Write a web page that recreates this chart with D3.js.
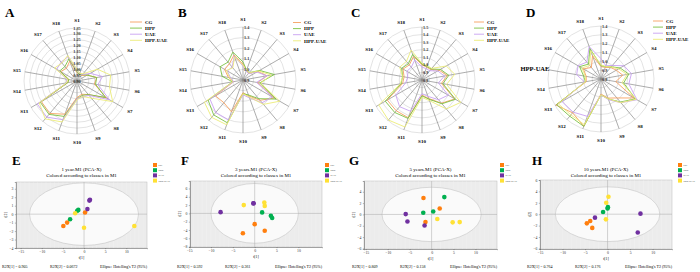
<!DOCTYPE html>
<html><head><meta charset="utf-8">
<script src="https://cdn.jsdelivr.net/npm/d3@7"></script>
<style>
body{margin:0;background:#fff;}
svg{display:block;font-family:"Liberation Serif","Times New Roman",serif;}
</style></head><body>
<svg id="fig" width="700" height="272"></svg>
<script>
// ---- data ----
const SPOKES = d3.range(1, 19).map(i => "S" + i);
const GROUPS = ["CG", "HPP", "UAE", "HPP-UAE"];
const RADAR_COLORS = ["#f6a060", "#7cc243", "#c8a2f2", "#ecec78"];
const PCA_COLORS = ["#ff7f0e", "#00b050", "#7030a0", "#ffe135"];

// radar values, one row per group (CG, HPP, UAE, HPP-UAE), S1..S18
const radarA = [
  [0.97,0.96,0.96,1.00,1.07,1.05,1.19,1.05,1.02,1.04,1.20,1.26,1.25,0.98,0.97,1.06,1.04,1.08],
  [0.98,0.96,0.97,1.00,1.07,1.06,1.18,1.05,1.03,1.05,1.22,1.27,1.26,0.98,0.97,1.07,1.06,1.10],
  [0.99,0.97,0.97,1.03,1.12,1.08,1.22,1.06,1.04,1.05,1.25,1.30,1.29,0.99,0.99,1.10,1.11,1.12],
  [1.00,0.97,0.98,1.10,1.19,1.18,1.25,1.09,1.04,1.06,1.27,1.32,1.27,0.99,0.98,1.12,1.10,1.13]
];
const radarB = [
  [1.05,1.00,0.98,1.06,1.13,1.04,1.24,1.15,1.06,1.02,1.22,1.18,1.20,0.99,1.04,1.10,1.10,1.15],
  [1.07,1.00,0.99,1.08,1.20,1.06,1.26,1.13,1.05,1.03,1.33,1.33,1.28,1.00,1.10,1.15,1.12,1.18],
  [1.03,0.99,0.98,1.05,1.13,1.03,1.22,1.18,1.08,1.04,1.30,1.30,1.26,0.99,1.02,1.07,1.06,1.14],
  [1.04,1.00,0.99,1.07,1.17,1.07,1.30,1.20,1.07,1.03,1.35,1.36,1.32,1.00,1.03,1.08,1.05,1.13]
];
const radarC = [
  [1.00,0.98,0.98,1.06,1.14,1.06,1.30,1.20,1.06,1.00,1.33,1.33,1.33,1.06,1.04,1.09,1.06,1.13],
  [1.01,0.99,0.99,1.08,1.16,1.08,1.31,1.21,1.07,1.01,1.34,1.36,1.36,1.08,1.06,1.11,1.08,1.16],
  [0.97,0.96,0.96,1.04,1.10,1.02,1.20,1.14,1.03,0.98,1.24,1.26,1.20,1.02,0.99,1.03,1.02,1.08],
  [1.02,1.00,1.00,1.17,1.24,1.13,1.39,1.30,1.09,1.03,1.46,1.49,1.46,1.09,1.06,1.14,1.12,1.22]
];
const radarD = [
  [0.94,0.94,0.97,1.00,1.05,0.97,1.23,1.08,1.03,0.97,1.37,1.30,1.39,0.97,0.97,1.03,0.97,1.08],
  [0.95,0.95,0.98,1.05,1.12,1.06,1.25,1.14,1.04,0.98,1.37,1.35,1.38,0.98,1.00,1.08,1.02,1.17],
  [1.03,0.96,1.00,1.10,1.15,1.12,1.27,1.15,1.05,0.98,1.25,1.29,1.31,0.99,1.08,1.10,1.05,1.19],
  [0.96,0.95,0.98,1.03,1.10,1.04,1.26,1.15,1.04,0.98,1.35,1.33,1.36,0.98,0.98,1.05,1.00,1.14]
];
const radarTicksA = [0.90,0.95,1.00,1.05,1.10,1.15,1.20,1.25,1.30,1.35];
const radarTicksB = [0.9,1.0,1.1,1.2,1.3,1.4];
const radarTicksC = [0.8,0.9,1.0,1.1,1.2,1.3,1.4,1.5];
const radarTicksD = [0.8,0.9,1.0,1.1,1.2,1.3,1.4];

// PCA scores (t[1], t[2]) and class of each sample
const pcaClass = ["CG","CG","CG","HPP","HPP","HPP","UAE","UAE","UAE","HPP-UAE","HPP-UAE","HPP-UAE"];
const pcaE_t1 = [-4.9,-4.0,0.24,-3.3,-1.6,-1.35,0.8,1.27,1.4,-2.1,0.0,11.9];
const pcaE_t2 = [-1.4,-1.0,0.2,-0.6,0.4,0.5,0.6,1.6,1.7,0.1,-1.6,-1.4];
const pcaF_t1 = [-2.7,0.0,2.3,1.7,3.7,4.0,-7.8,-0.3,-0.25,-2.5,2.2,2.3];
const pcaF_t2 = [-4.8,-2.6,-4.2,0.24,-0.6,-1.1,0.3,2.4,2.45,2.0,2.6,1.8];
const pcaG_t1 = [-1.85,1.85,-1.4,2.9,0.37,-1.9,-5.9,-5.5,-1.6,1.3,4.8,6.4];
const pcaG_t2 = [2.9,1.05,-1.35,3.06,0.53,0.3,0.06,-1.24,-1.94,-0.8,-1.4,-1.35];
const pcaH_t1 = [-4.6,-3.85,-3.4,-1.0,0.0,0.07,-2.8,7.3,6.7,0.2,-0.3,-0.37];
const pcaH_t2 = [-1.6,-1.2,-2.4,0.4,1.0,1.24,-0.6,0.1,-3.2,3.06,2.0,-0.9];

const pcaTitles = ["1 year.M1 (PCA-X)","3 years.M1 (PCA-X)","5 years.M1 (PCA-X)","10 years.M1 (PCA-X)"];
const pcaR2X1 = ["0.905","0.592","0.809","0.764"];
const pcaR2X2 = ["0.0672","0.361","0.158","0.176"];

// ---- drawing ----
const svg = d3.select("#fig");

function panelLetter(x, y, t){
  svg.append("text").attr("x", x).attr("y", y).attr("font-size", 13)
    .attr("font-weight", "bold").text(t);
}

function radar(cx, cy, data, ticks, fmt, anchor, legend, s15label){
  const R = 53;
  const r = d3.scaleLinear().domain([ticks[0], ticks[ticks.length-1]]).range([0, R]);
  const ang = i => i * 2 * Math.PI / SPOKES.length;
  const g = svg.append("g").attr("transform", `translate(${cx},${cy})`);

  g.selectAll("circle.ring").data(ticks.slice(1)).join("circle")
    .attr("r", d => r(d)).attr("fill", "none")
    .attr("stroke", "#d0d0d0").attr("stroke-width", 0.6);
  g.selectAll("line.spoke").data(SPOKES).join("line")
    .attr("x2", (d,i) => R * Math.sin(ang(i)))
    .attr("y2", (d,i) => -R * Math.cos(ang(i)))
    .attr("stroke", "#8a8a8a").attr("stroke-width", 0.7);

  const line = d3.lineRadial().angle((d,i) => ang(i)).radius(d => r(d))
    .curve(d3.curveLinearClosed);
  g.selectAll("path.series").data(data).join("path")
    .attr("d", line).attr("fill", "none")
    .attr("stroke", (d,i) => RADAR_COLORS[i]).attr("stroke-width", 0.9);

  g.selectAll("text.tick").data(ticks).join("text")
    .attr("x", anchor === "middle" ? 0 : 1)
    .attr("y", d => -r(d) + 1.5)
    .attr("text-anchor", anchor).attr("font-size", 4.2).attr("font-weight", "bold")
    .attr("fill", "#333").text(d => fmt(d));

  g.selectAll("text.spk").data(SPOKES).join("text")
    .attr("x", (d,i) => 61 * Math.sin(ang(i)))
    .attr("y", (d,i) => -61 * Math.cos(ang(i)) + 1.8)
    .attr("text-anchor", "middle").attr("font-size", 5).attr("font-weight", "bold")
    .text((d,i) => (s15label && d === "S15") ? "" : d);
  if (s15label){
    const i = SPOKES.indexOf("S15");
    g.append("text").attr("x", 61 * Math.sin(ang(i)) - 6).attr("y", -61 * Math.cos(ang(i)) + 2.2)
      .attr("font-size", 6.5).attr("font-weight", "bold").attr("text-anchor", "middle")
      .text(s15label);
  }

  const lg = svg.append("g").attr("transform", `translate(${legend[0]},${legend[1]})`);
  GROUPS.forEach((gname, i) => {
    lg.append("line").attr("x1", 0).attr("x2", legend[2]).attr("y1", i*6.1).attr("y2", i*6.1)
      .attr("stroke", RADAR_COLORS[i]).attr("stroke-width", 0.9);
    lg.append("text").attr("x", legend[2] + 3).attr("y", i*6.1 + 1.7)
      .attr("font-size", 5).attr("font-weight", "bold").text(gname);
  });
}

function pca(cfg){
  const x = d3.scaleLinear().domain(cfg.xd).range([cfg.x0, cfg.x1]);
  const y = d3.scaleLinear().domain(cfg.yd).range([cfg.y1, cfg.y0]);
  const g = svg.append("g");
  g.append("rect").attr("x", cfg.x0).attr("y", cfg.y0)
    .attr("width", cfg.x1 - cfg.x0).attr("height", cfg.y1 - cfg.y0)
    .attr("fill", "#ececec").attr("stroke", "#bdbdbd").attr("stroke-width", 0.5);
  g.selectAll("line.gx").data(d3.range(Math.ceil(cfg.xd[0]), cfg.xd[1], 1)).join("line")
    .attr("x1", d => x(d)).attr("x2", d => x(d)).attr("y1", cfg.y0).attr("y2", cfg.y1)
    .attr("stroke", "#f6f6f6").attr("stroke-width", 0.3);
  g.append("ellipse").attr("cx", x(0)).attr("cy", y(0))
    .attr("rx", x(cfg.ell[0]) - x(0)).attr("ry", y(0) - y(cfg.ell[1]))
    .attr("fill", "#fafafa").attr("stroke", "#c4c4c4").attr("stroke-width", 0.6);
  g.append("line").attr("x1", x(0)).attr("x2", x(0)).attr("y1", cfg.y0).attr("y2", cfg.y1)
    .attr("stroke", "#a8a8a8").attr("stroke-width", 0.5);
  g.append("line").attr("x1", cfg.x0).attr("x2", cfg.x1).attr("y1", y(0)).attr("y2", y(0))
    .attr("stroke", "#a8a8a8").attr("stroke-width", 0.5);

  const xa = g.append("g").attr("transform", `translate(0,${cfg.y1})`)
    .call(d3.axisBottom(x).tickValues(cfg.xt).tickSize(1.2).tickPadding(1));
  const ya = g.append("g").attr("transform", `translate(${cfg.x0},0)`)
    .call(d3.axisLeft(y).tickValues(cfg.yt).tickSize(1.2).tickPadding(1.5));
  [xa, ya].forEach(a => {
    a.select(".domain").attr("stroke", "#555").attr("stroke-width", 0.5);
    a.selectAll(".tick line").attr("stroke", "#555").attr("stroke-width", 0.4);
    a.selectAll("text").attr("font-size", 3.8).attr("fill", "#333")
      .attr("font-family", "Liberation Serif, serif");
  });

  g.append("text").attr("x", (cfg.x0 + cfg.x1)/2).attr("y", cfg.y1 + 11)
    .attr("text-anchor", "middle").attr("font-size", 3.8).text("t[1]");
  g.append("text").attr("transform", `translate(${cfg.x0 - 9},${(cfg.y0 + cfg.y1)/2}) rotate(-90)`)
    .attr("text-anchor", "middle").attr("font-size", 3.8).text("t[2]");

  g.selectAll("circle.pt").data(cfg.t1).join("circle")
    .attr("cx", d => x(d)).attr("cy", (d,i) => y(cfg.t2[i])).attr("r", 2.3)
    .attr("fill", (d,i) => PCA_COLORS[GROUPS.indexOf(pcaClass[i])]);

  const tx = (cfg.x0 + cfg.x1)/2;
  g.append("text").attr("x", tx).attr("y", 171).attr("text-anchor", "middle")
    .attr("font-size", 5).text(cfg.title);
  g.append("text").attr("x", tx).attr("y", 176.5).attr("text-anchor", "middle")
    .attr("font-size", 5).text("Colored according to classes in M1");

  const lg = g.append("g").attr("transform", `translate(${cfg.lx},163)`);
  GROUPS.forEach((gname, i) => {
    lg.append("rect").attr("x", 0).attr("y", i*5.2).attr("width", 4).attr("height", 4)
      .attr("fill", PCA_COLORS[i]);
    lg.append("text").attr("x", 5.5).attr("y", i*5.2 + 3).attr("font-size", 2.8).text(gname);
  });

  g.append("text").attr("x", cfg.bx).attr("y", 268).attr("font-size", 4).text(`R2X[1] = ${cfg.r1}`);
  g.append("text").attr("x", cfg.bx + 48).attr("y", 268).attr("font-size", 4).text(`R2X[2] = ${cfg.r2}`);
  g.append("text").attr("x", cfg.bx + 98).attr("y", 268).attr("font-size", 4)
    .text("Ellipse: Hotelling's T2 (95%)");
}

// radar panels
const f2 = d3.format(".2f"), f1 = d3.format(".1f");
panelLetter(5, 17, "A");
radar(77, 81, radarA, radarTicksA, f2, "middle", [130, 22, 12]);
panelLetter(178, 17, "B");
radar(243, 80, radarB, radarTicksB, f1, "start", [293, 22.5, 8]);
panelLetter(351, 17, "C");
radar(422, 80, radarC, radarTicksC, f1, "start", [474, 22, 10]);
panelLetter(526, 17, "D");
radar(601, 79, radarD, radarTicksD, f1, "start", [653, 21, 10], "HPP-UAE");

// PCA panels
panelLetter(12, 165, "E");
pca({x0:16, x1:147, y0:182, y1:248, xd:[-16.1,14.9], yd:[-4,3.8], xt:[-15,-10,-5,0,5,10], yt:[-4,-3,-2,-1,0,1,2,3],
  ell:[12.9,3.7], t1:pcaE_t1, t2:pcaE_t2, title:pcaTitles[0], lx:153, bx:2, r1:pcaR2X1[0], r2:pcaR2X2[0]});
panelLetter(181, 165, "F");
pca({x0:190, x1:322, y0:181, y1:247, xd:[-14.8,15.4], yd:[-8.1,7.8], xt:[-15,-10,-5,0,5,10], yt:[-8,-6,-4,-2,0,2,4,6],
  ell:[10,7.2], t1:pcaF_t1, t2:pcaF_t2, title:pcaTitles[1], lx:325, bx:177, r1:pcaR2X1[1], r2:pcaR2X2[1]});
panelLetter(349, 165, "G");
pca({x0:364, x1:497, y0:181, y1:249, xd:[-15.4,14.9], yd:[-6.1,5.9], xt:[-15,-10,-5,0,5,10], yt:[-6,-4,-2,0,2,4],
  ell:[11.3,4.8], t1:pcaG_t1, t2:pcaG_t2, title:pcaTitles[2], lx:500, bx:352, r1:pcaR2X1[2], r2:pcaR2X2[2]});
panelLetter(532, 165, "H");
pca({x0:540, x1:672, y0:180, y1:249, xd:[-15.0,14.3], yd:[-6.1,6.0], xt:[-15,-10,-5,0,5,10], yt:[-6,-4,-2,0,2,4,6],
  ell:[11.6,4.8], t1:pcaH_t1, t2:pcaH_t2, title:pcaTitles[3], lx:678, bx:527, r1:pcaR2X1[3], r2:pcaR2X2[3]});
</script>
</body></html>
